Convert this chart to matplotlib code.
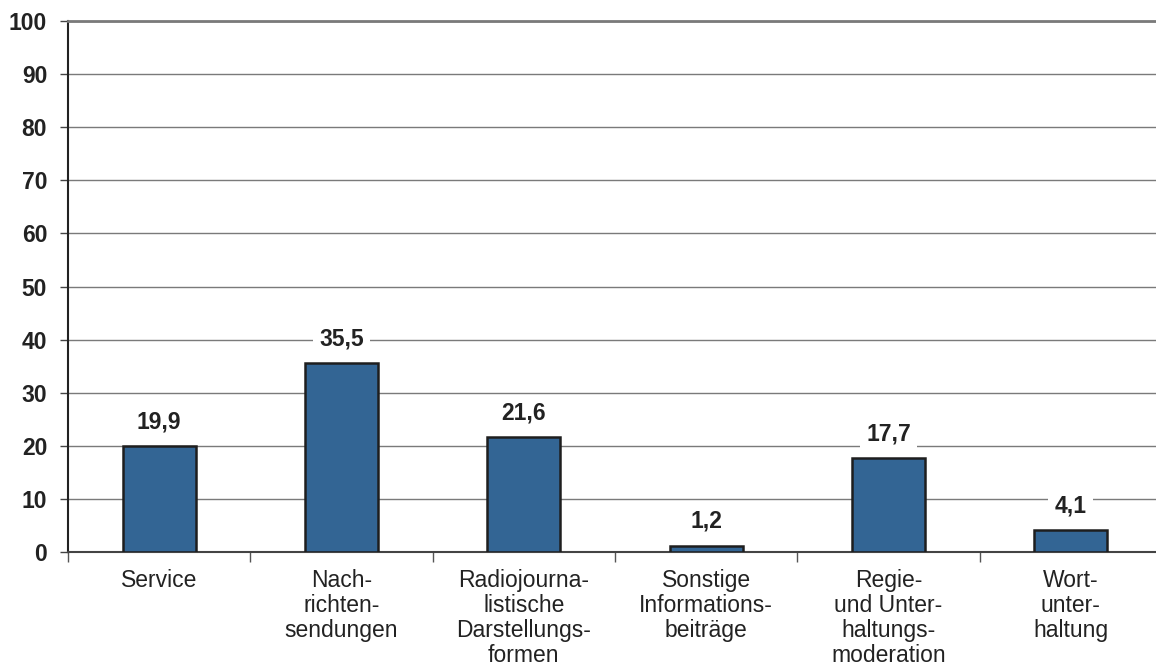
import matplotlib
matplotlib.use("Agg")
import matplotlib.pyplot as plt
import numpy as np

categories = [
    "Service",
    "Nach-\nrichten-\nsendungen",
    "Radiojourna-\nlistische\nDarstellungs-\nformen",
    "Sonstige\nInformations-\nbeiträge",
    "Regie-\nund Unter-\nhaltungs-\nmoderation",
    "Wort-\nunter-\nhaltung",
]
values = [19.9, 35.5, 21.6, 1.2, 17.7, 4.1]
value_labels = ["19,9", "35,5", "21,6", "1,2", "17,7", "4,1"]
y_ticks = [0, 10, 20, 30, 40, 50, 60, 70, 80, 90, 100]

plt.rcParams["font.family"] = ["Liberation Sans", "DejaVu Sans"]
text_color = "#222222"

W, H = 1156, 666
fig = plt.figure(figsize=(W / 100, H / 100), dpi=100)
left, right, bottom, top = 68, 1162, 552, 21
ax = fig.add_axes([left / W, 1 - bottom / H, (right - left) / W, (bottom - top) / H])

x = np.arange(len(categories))
ax.bar(x, values, width=0.4, color="#336594", edgecolor="#1e1e1e",
       linewidth=1.8, zorder=3)

ax.set_xlim(-0.5, len(categories) - 0.5)
ax.set_ylim(0, 100)

# horizontal grid
ax.set_yticks(y_ticks)
ax.set_yticklabels([str(t) for t in y_ticks], fontsize=16.5, fontweight="bold",
                   color=text_color)
ax.yaxis.grid(True, color="#7a7a7a", linewidth=1.0, zorder=0)
ax.tick_params(axis="y", length=6, width=1, color="#444444", pad=9)

# ticks between categories, labels under centres
ax.set_xticks(np.arange(-0.5, len(categories), 1.0))
ax.set_xticklabels([])
ax.tick_params(axis="x", which="major", length=7, width=1, color="#555555")
ax.set_xticks(x, minor=True)
ax.set_xticklabels(categories, minor=True, fontsize=16.5, color=text_color,
                   linespacing=1.12, va="top")
ax.tick_params(axis="x", which="minor", length=0, pad=12)

ax.spines["right"].set_visible(False)
ax.spines["top"].set_color("#7a7a7a")
ax.spines["top"].set_linewidth(2.0)
ax.spines["left"].set_color("#222222")
ax.spines["left"].set_linewidth(1.5)
ax.spines["bottom"].set_color("#444444")
ax.spines["bottom"].set_linewidth(1.5)
ax.set_axisbelow(True)

for xi, v, lab in zip(x, values, value_labels):
    ax.annotate(lab, xy=(xi, v), xytext=(0, 17.5), textcoords="offset points",
                ha="center", va="center", fontsize=16.5, fontweight="bold",
                color=text_color, zorder=5,
                bbox=dict(boxstyle="square,pad=0.28", facecolor="white",
                          edgecolor="none"))

fig.savefig("out.png", dpi=100)
